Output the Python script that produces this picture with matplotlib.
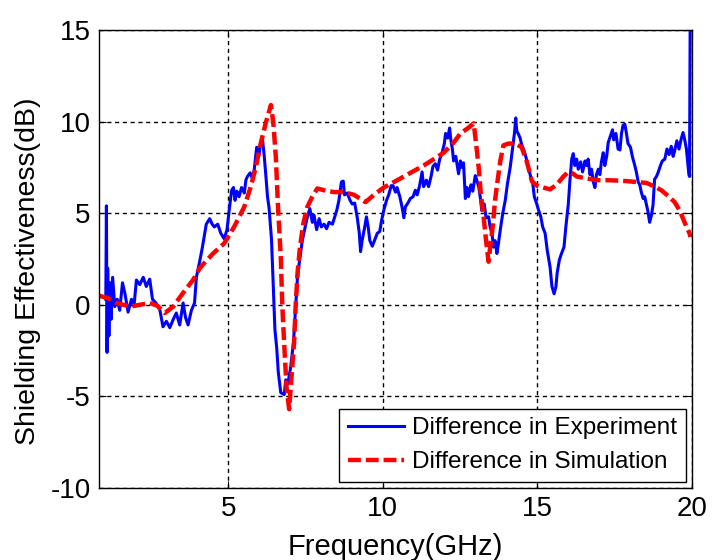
import numpy as np
import matplotlib
matplotlib.use('Agg')
import matplotlib.pyplot as plt

plt.rcParams['font.family'] = ['Liberation Sans', 'DejaVu Sans']
plt.rcParams['axes.unicode_minus'] = False

# 实测屏蔽效能差值 (GHz, dB)
freq_exp = [1.04, 1.06, 1.08, 1.10, 1.14, 1.18, 1.21, 1.26, 1.33, 1.41, 1.49, 1.58, 1.66, 1.76,
            1.87, 1.95, 2.03, 2.14, 2.25, 2.35, 2.46, 2.55, 2.66, 2.79, 2.89, 3.00, 3.11, 3.22,
            3.32, 3.43, 3.54, 3.62, 3.70, 3.81, 3.91, 3.97, 4.08, 4.16, 4.24, 4.29, 4.40, 4.48,
            4.55, 4.66, 4.76, 4.87, 4.96, 5.03, 5.11, 5.17, 5.22, 5.28, 5.35, 5.43, 5.52, 5.57,
            5.62, 5.71, 5.78, 5.84, 5.92, 6.00, 6.05, 6.11, 6.16, 6.21, 6.27, 6.32, 6.40, 6.46,
            6.51, 6.57, 6.62, 6.70, 6.81, 6.86, 6.93, 7.02, 7.11, 7.18, 7.24, 7.31, 7.40, 7.47,
            7.56, 7.64, 7.72, 7.77, 7.86, 7.94, 8.01, 8.10, 8.18, 8.26, 8.37, 8.51, 8.58, 8.66,
            8.72, 8.76, 8.85, 8.94, 9.01, 9.09, 9.17, 9.24, 9.28, 9.33, 9.41, 9.47, 9.53, 9.58,
            9.66, 9.73, 9.82, 9.90, 9.96, 10.03, 10.12, 10.19, 10.27, 10.33, 10.41, 10.46, 10.55,
            10.62, 10.68, 10.73, 10.81, 10.89, 10.98, 11.05, 11.11, 11.19, 11.27, 11.32, 11.41,
            11.48, 11.56, 11.62, 11.70, 11.77, 11.84, 11.91, 11.99, 12.03, 12.10, 12.16, 12.20,
            12.25, 12.29, 12.36, 12.45, 12.51, 12.56, 12.61, 12.67, 12.72, 12.77, 12.85, 12.91,
            12.99, 13.04, 13.10, 13.15, 13.20, 13.28, 13.34, 13.42, 13.47, 13.53, 13.58, 13.63,
            13.69, 13.74, 13.80, 13.88, 13.96, 14.03, 14.12, 14.20, 14.26, 14.30, 14.33, 14.39,
            14.44, 14.49, 14.57, 14.63, 14.71, 14.78, 14.85, 14.90, 14.98, 15.04, 15.11, 15.17,
            15.25, 15.32, 15.41, 15.47, 15.54, 15.60, 15.64, 15.71, 15.78, 15.86, 15.92, 16.00,
            16.05, 16.11, 16.16, 16.21, 16.27, 16.32, 16.40, 16.46, 16.54, 16.59, 16.64, 16.70,
            16.75, 16.81, 16.86, 16.91, 16.97, 17.02, 17.07, 17.13, 17.18, 17.24, 17.29, 17.36,
            17.43, 17.47, 17.54, 17.61, 17.67, 17.72, 17.77, 17.83, 17.88, 17.93, 18.01, 18.07,
            18.15, 18.20, 18.26, 18.31, 18.36, 18.42, 18.47, 18.53, 18.58, 18.63, 18.69, 18.74,
            18.79, 18.85, 18.90, 18.98, 19.04, 19.12, 19.19, 19.26, 19.33, 19.39, 19.44, 19.51,
            19.58, 19.65, 19.71, 19.76, 19.82, 19.87, 19.90, 19.92, 19.94]
se_exp = [0.3, 5.4, -2.6, 2.0, -1.7, 1.2, -0.8, 1.5, -0.1, 0.3, -0.3, 1.2, 0.6, -0.4,
          0.3, -0.1, 1.35, 1.1, 1.5, 1.0, 1.4, 0.3, 0.1, -0.3, -1.2, -0.9, -1.25, -0.8,
          -0.45, -1.1, 0.1, -0.7, -1.1, -0.3, 0.1, 1.5, 2.4, 3.1, 3.9, 4.4, 4.7, 4.4,
          4.25, 4.4, 3.9, 3.6, 4.1, 5.15, 6.25, 6.4, 5.7, 6.2, 5.9, 6.4, 6.1, 6.8,
          7.0, 7.2, 6.9, 7.35, 8.6, 8.2, 8.9, 9.0, 8.2, 7.2, 5.9, 5.3, 3.55, 0.8,
          -1.35, -2.4, -3.7, -4.8, -4.9, -4.1, -4.3, -3.4, -2.05, -0.1, 1.5, 2.45, 3.55, 4.1,
          4.8, 5.25, 4.5, 4.9, 4.1, 4.7, 4.25, 4.4, 4.15, 4.5, 4.4, 5.15, 5.7, 6.7,
          6.75, 6.0, 6.1, 5.7, 5.5, 5.55, 4.8, 3.9, 2.9, 3.5, 4.2, 4.8, 4.2, 3.5,
          3.2, 3.5, 3.9, 4.0, 4.6, 5.15, 5.7, 6.0, 6.5, 6.5, 6.15, 6.4, 5.9,
          5.35, 4.75, 5.35, 5.55, 5.8, 5.9, 6.25, 6.0, 6.5, 7.25, 6.45, 6.8,
          6.45, 7.0, 7.55, 7.7, 7.35, 7.95, 8.25, 8.8, 9.35, 9.1, 9.65, 9.0,
          8.5, 7.85, 8.1, 7.15, 7.85, 7.5, 7.75, 5.8, 6.4, 5.9, 6.55, 6.2,
          7.05, 6.8, 6.45, 5.9, 5.15, 5.5, 4.75, 4.8, 4.25, 3.9, 3.15, 3.5,
          2.8, 3.35, 4.1, 5.0, 5.7, 6.6, 7.5, 8.6, 9.4, 10.2, 9.5, 9.3,
          9.1, 8.75, 8.4, 8.05, 7.5, 7.0, 6.6, 5.9, 5.5, 5.15, 4.8, 4.25,
          3.9, 2.95, 2.05, 1.0, 0.6, 1.0, 1.75, 2.45, 2.8, 3.15, 4.25, 5.5,
          6.75, 7.95, 8.25, 7.6, 7.95, 7.4, 7.8, 7.25, 7.85, 7.6, 7.95, 7.1,
          7.4, 6.7, 6.4, 7.1, 7.4, 7.1, 7.8, 8.3, 7.6, 8.1, 8.85, 9.2,
          9.55, 9.0, 9.35, 8.5, 8.45, 9.35, 9.8, 9.85, 9.35, 8.8, 8.6, 8.1,
          7.6, 7.25, 6.7, 6.55, 6.15, 5.8, 5.9, 5.45, 5.05, 4.5, 4.9, 5.45,
          6.85, 7.0, 7.2, 7.6, 7.85, 7.95, 8.5, 8.2, 8.65, 8.1, 8.4, 8.95,
          8.5, 9.05, 9.4, 9.05, 8.5, 7.6, 7.1, 7.0, 15.0]

# 仿真屏蔽效能差值
freq_sim = [0.82, 1.12, 1.39, 1.82, 2.14, 2.46, 2.70, 2.95, 3.22, 3.54, 3.86, 4.08, 4.29, 4.51,
            4.87, 5.19, 5.52, 5.73, 5.89, 6.05, 6.21, 6.38, 6.46, 6.54, 6.61, 6.70, 6.75, 6.83,
            6.89, 6.97, 7.04, 7.13, 7.18, 7.24, 7.32, 7.43, 7.56, 7.72, 7.88, 8.10, 8.42, 8.74,
            9.07, 9.44, 9.71, 10.03, 10.36, 10.68, 11.00, 11.32, 11.65, 11.97, 12.29, 12.51,
            12.72, 12.94, 13.02, 13.10, 13.17, 13.26, 13.34, 13.42, 13.47, 13.56, 13.63, 13.71,
            13.80, 13.90, 14.06, 14.28, 14.49, 14.66, 14.82, 14.98, 15.19, 15.41, 15.62, 15.84,
            16.00, 16.16, 16.27, 16.59, 16.91, 17.24, 17.56, 17.88, 18.20, 18.53, 18.79, 19.01,
            19.22, 19.44, 19.60, 19.76, 19.92, 19.95]
se_sim = [0.5, 0.35, 0.1, -0.1, 0.0, 0.1, -0.05, -0.45, -0.1, 0.65, 1.35, 2.0, 2.4, 2.8,
          3.35, 4.25, 5.35, 6.45, 7.5, 8.8, 9.9, 10.9, 9.9, 8.05, 5.35, 2.6, -0.1, -2.8,
          -4.6, -5.7, -4.1, -2.05, -0.1, 1.7, 3.15, 4.45, 5.35, 5.9, 6.35, 6.25, 6.15, 6.15,
          6.0, 5.6, 6.0, 6.4, 6.7, 7.0, 7.3, 7.6, 7.95, 8.3, 8.85, 9.35,
          9.6, 9.9, 8.75, 7.5, 6.05, 4.8, 3.5, 2.35, 3.1, 4.35, 5.7, 6.75,
          7.85, 8.7, 8.8, 8.8, 8.6, 7.8, 6.75, 6.5, 6.4, 6.3, 6.55, 7.0,
          7.25, 7.15, 7.0, 6.9, 6.8, 6.8, 6.78, 6.75, 6.7, 6.65, 6.45, 6.25,
          5.95, 5.6, 5.15, 4.5, 3.9, 3.7]

x_ticks = [5, 10, 15, 20]
y_ticks = [-10, -5, 0, 5, 10, 15]

fig = plt.figure(figsize=(7.2, 5.6), dpi=100)
ax = fig.add_axes([0.1375, 0.1286, 0.8236, 0.8179])

ax.plot(freq_exp, se_exp, color='#0000ff', linewidth=2.2, label='Difference in Experiment')
ax.plot(freq_sim, se_sim, color='#ff0000', linewidth=3.2, linestyle=(0, (2.9, 1.1)),
        label='Difference in Simulation')

ax.set_xlim(0.82, 19.95)
ax.set_ylim(-10, 15)
ax.set_xticks(x_ticks)
ax.set_yticks(y_ticks)
ax.grid(True, color='black', linestyle=(0, (3, 2.6)), linewidth=1.0)
ax.tick_params(direction='in', length=5, width=0.8, labelsize=20, top=True, right=True, pad=6)
for s in ax.spines.values():
    s.set_linewidth(1.0)

ax.set_xlabel('Frequency(GHz)', fontsize=21, labelpad=8)
ax.set_ylabel('Shielding Effectiveness(dB)', fontsize=20.5)
ax.yaxis.set_label_coords(-0.098, 0.474)

leg = ax.legend(loc='lower right', fontsize=17.5, fancybox=False, framealpha=1,
                edgecolor='black', handlelength=2.3, handletextpad=0.35,
                borderpad=0.35, labelspacing=0.5, borderaxespad=0.25)
leg.get_frame().set_linewidth(1.0)

plt.savefig('out.png', dpi=100)
